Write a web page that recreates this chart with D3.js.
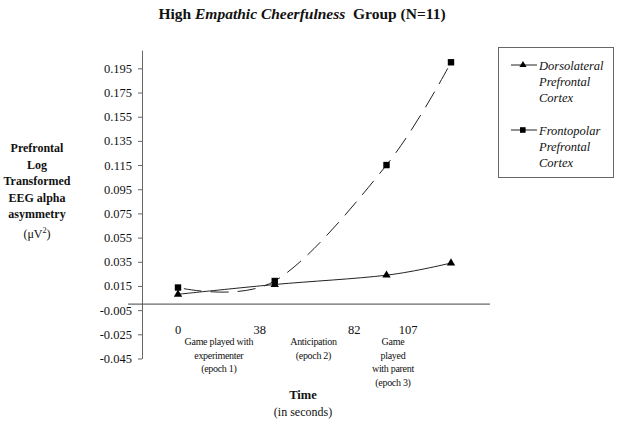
<!DOCTYPE html>
<html><head><meta charset="utf-8">
<script src="https://cdn.jsdelivr.net/npm/d3@7"></script>
<style>body{margin:0;background:#fff}svg{display:block}text{font-family:"Liberation Serif","Times New Roman",serif;fill:#111}</style>
</head><body>
<svg id="c" width="622" height="425" font-family="Liberation Serif, serif"></svg>
<script>
const times = [0, 45, 97, 127];
const dorsolateral = [0.0081, 0.0162, 0.0239, 0.034];
const frontopolar = [0.0137, 0.0191, 0.115, 0.200];
const yTicks = [0.195, 0.175, 0.155, 0.135, 0.115, 0.095, 0.075, 0.055, 0.035, 0.015, -0.005, -0.025, -0.045];
const xTicks = [0, 38, 82, 107];
const epochs = [
  {t: 19, lines: ["Game played with", "experimenter", "(epoch 1)"]},
  {t: 63, lines: ["Anticipation", "(epoch 2)"]},
  {t: 100, lines: ["Game", "played", "with parent", "(epoch 3)"]}
];
const yLabel = ["Prefrontal", "Log", "Transformed", "EEG alpha", "asymmetry"];

const svg = d3.select("#c");
const x = d3.scaleLinear().domain([0, 107]).range([178, 408]);
const y = d3.scaleLinear().domain([-0.045, 0.21]).range([358.5, 50.2]);

// title
const title = svg.append("text").attr("x", 302).attr("y", 19).attr("text-anchor", "middle")
  .style("font-size", "15.5px").style("font-weight", "bold");
title.append("tspan").text("High ");
title.append("tspan").style("font-style", "italic").text("Empathic Cheerfulness");
title.append("tspan").text("\u00a0 Group (N=11)");

// y axis
const yAxis = d3.axisLeft(y).tickValues(yTicks).tickSize(4).tickSizeOuter(0)
  .tickFormat(d => d.toFixed(3).replace("\u2212", "-"));
const ga = svg.append("g").attr("transform", "translate(142,0)").call(yAxis).attr("font-family", null);
ga.select(".domain").attr("stroke", "#666");
ga.selectAll(".tick line").attr("stroke", "#666");
ga.selectAll(".tick text").style("font-size", "12.5px").attr("fill", "#111").attr("x", -10);

// x axis line at zero
svg.append("line").attr("x1", 128).attr("x2", 490).attr("y1", y(0)).attr("y2", y(0)).attr("stroke", "#444");
svg.selectAll(".xt").data(xTicks).join("text").attr("class", "xt")
  .attr("x", d => x(d)).attr("y", 334).attr("text-anchor", "middle").style("font-size", "12.5px").text(d => d);

// epoch labels
epochs.forEach(e => {
  const t = svg.append("text").attr("text-anchor", "middle").style("font-size", "10px").style("letter-spacing", "-0.3px");
  e.lines.forEach((l, i) => t.append("tspan").attr("x", x(e.t)).attr("y", 345 + i * 13.5).text(l));
});

// axis titles
svg.append("text").attr("x", 303).attr("y", 399).attr("text-anchor", "middle").style("font-size", "12.5px").style("font-weight", "bold").text("Time");
svg.append("text").attr("x", 303).attr("y", 416).attr("text-anchor", "middle").style("font-size", "12px").text("(in seconds)");

const yl = svg.append("text").attr("text-anchor", "middle").style("font-size", "12px").style("font-weight", "bold");
yLabel.forEach((l, i) => yl.append("tspan").attr("x", 37).attr("y", 152 + i * 16.5).text(l));
const mu = svg.append("text").attr("x", 37).attr("y", 238).attr("text-anchor", "middle").style("font-size", "12px");
mu.append("tspan").text("(\u03bcV");
mu.append("tspan").attr("dy", -5).style("font-size", "8px").text("2");
mu.append("tspan").attr("dy", 5).text(")");

// lines
const line = d3.line().x(d => x(d[0])).y(d => y(d[1])).curve(d3.curveCardinal.tension(0));
svg.append("path").datum(times.map((t, i) => [t, frontopolar[i]])).attr("d", line)
  .attr("fill", "none").attr("stroke", "#222").attr("stroke-width", 1).attr("stroke-dasharray", "18,9").attr("stroke-dashoffset", -6);
svg.append("path").datum(times.map((t, i) => [t, dorsolateral[i]])).attr("d", line)
  .attr("fill", "none").attr("stroke", "#222").attr("stroke-width", 1);

const tri = d3.symbol().type(d3.symbolTriangle).size(30);
svg.selectAll(".tri").data(times.map((t, i) => [t, dorsolateral[i]])).join("path").attr("class", "tri")
  .attr("d", tri).attr("transform", d => `translate(${x(d[0])},${y(d[1])})`).attr("fill", "#000");
svg.selectAll(".sq").data(times.map((t, i) => [t, frontopolar[i]])).join("rect").attr("class", "sq")
  .attr("x", d => x(d[0]) - 3.2).attr("y", d => y(d[1]) - 3.2).attr("width", 6.4).attr("height", 6.4).attr("fill", "#000");

// legend
svg.append("rect").attr("x", 498.5).attr("y", 47.5).attr("width", 115).attr("height", 130).attr("fill", "none").attr("stroke", "#666");
const leg = [{name: ["Dorsolateral", "Prefrontal", "Cortex"], sym: "tri", y: 65}, {name: ["Frontopolar", "Prefrontal", "Cortex"], sym: "sq", y: 130}];
leg.forEach(L => {
  svg.append("line").attr("x1", 511).attr("x2", 537).attr("y1", L.y).attr("y2", L.y).attr("stroke", "#222");
  if (L.sym === "tri") svg.append("path").attr("d", d3.symbol().type(d3.symbolTriangle).size(22)).attr("transform", `translate(523,${L.y})`).attr("fill", "#000");
  else svg.append("rect").attr("x", 520).attr("y", L.y - 2.8).attr("width", 5.6).attr("height", 5.6).attr("fill", "#000");
  const t = svg.append("text").style("font-size", "12.5px").style("font-style", "italic");
  L.name.forEach((n, i) => t.append("tspan").attr("x", 539).attr("y", L.y + 4.5 + i * 16).text(n));
});
</script>
</body></html>
